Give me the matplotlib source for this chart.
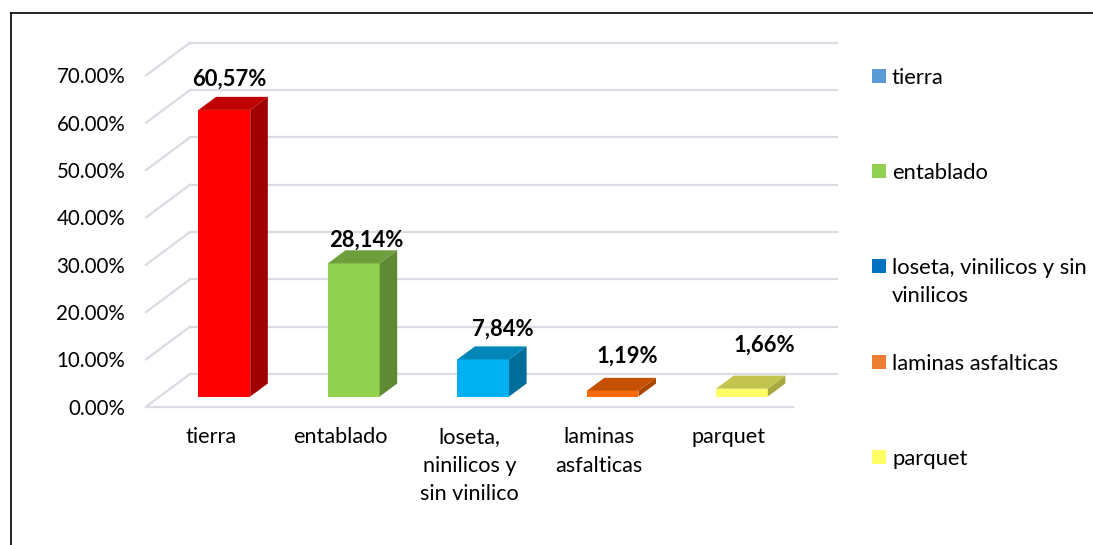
#!/usr/bin/env python
# -*- coding: utf-8 -*-

import matplotlib
matplotlib.use("Agg")
import matplotlib.pyplot as pl
from matplotlib.patches import Polygon, Rectangle
from matplotlib.lines import Line2D

pl.rcParams["font.family"] = ["Lato", "DejaVu Sans"]

# data
categories = ["tierra", "entablado", "loseta,\nninilicos y\nsin vinilico",
              "laminas\nasfalticas", "parquet"]
values = [60.57, 28.14, 7.84, 1.19, 1.66]
value_labels = ["60,57%", "28,14%", "7,84%", "1,19%", "1,66%"]
yticks = [0, 10, 20, 30, 40, 50, 60, 70]

legend_labels = ["tierra", "entablado", "loseta, vinilicos y sin\nvinilicos",
                 "laminas asfalticas", "parquet"]
legend_colors = ["#5B9BD5", "#92D050", "#0070C0", "#ED7D31", "#FFFF66"]

# front / top / side colours of each bar
front_colors = ["#FF0000", "#92D050", "#00B0F0", "#FF6A00", "#FFFF66"]
top_colors = ["#C00000", "#6F9E3D", "#0087B8", "#C55000", "#C3C350"]
side_colors = ["#A00000", "#5F8A33", "#006E9A", "#A84400", "#A8A840"]

# where Excel put the data labels, relative to the bar (x in bars, y in %)
label_nudge = [(0.14, 8.7), (0.20, 7.1), (0.26, 8.6), (0.22, 9.4),
               (0.28, 11.4)]

GRID = "#D9DCE3"
DX, DY = 0.34, 6.91          # full depth of the floor, in data units
F, B = 0.31, 0.71            # front / back depth fraction of the bars
HW = 0.2                     # half bar width

W, H = 1093, 545
fig = pl.figure(figsize=(W / 100, H / 100), dpi=100)
ax = fig.add_axes([146 / W, 1 - 406.7 / H, 711.7 / W, 378.6 / H])
ax.set_xlim(-0.5, 5.0)
ax.set_ylim(0, 80)
for s in ax.spines.values():
    s.set_visible(False)

# walls / gridlines
for v in yticks:
    ax.plot([-0.5 + DX, 4.5 + DX], [v + DY, v + DY], color=GRID, lw=1.6,
            clip_on=False, zorder=1)
    ax.plot([-0.5, -0.5 + DX], [v, v + DY], color=GRID, lw=1.6,
            clip_on=False, zorder=1)
ax.plot([-0.5, 4.5], [0, 0], color=GRID, lw=1.6, clip_on=False, zorder=1)

# 3d-ish bars
for i, v in enumerate(values):
    x0, x1 = i - HW + F * DX, i + HW + F * DX
    y0, y1 = F * DY, v + F * DY
    ddx, ddy = (B - F) * DX, (B - F) * DY
    front = Polygon([(x0, y0), (x1, y0), (x1, y1), (x0, y1)],
                    closed=True, fc=front_colors[i], ec="none", zorder=3)
    side = Polygon([(x1, y0), (x1 + ddx, y0 + ddy), (x1 + ddx, y1 + ddy),
                    (x1, y1)], closed=True, fc=side_colors[i], ec="none",
                   zorder=3)
    top = Polygon([(x0, y1), (x1, y1), (x1 + ddx, y1 + ddy),
                   (x0 + ddx, y1 + ddy)], closed=True, fc=top_colors[i],
                  ec="none", zorder=3)
    for p in (front, side, top):
        p.set_clip_on(False)
        ax.add_patch(p)
    nx, ny = label_nudge[i]
    ax.text(i + nx, v + ny, value_labels[i], ha="center", va="center",
            fontsize=15.8, fontweight="bold", color="black", zorder=4)

ax.set_yticks(yticks)
ax.set_yticklabels(["%.2f%%" % t for t in yticks])
ax.set_xticks(range(len(categories)))
ax.set_xticklabels(categories, linespacing=1.55)
ax.tick_params(axis="y", length=0, pad=15, labelsize=14.8)
ax.tick_params(axis="x", length=0, pad=14.5, labelsize=15.6)

# legend drawn by hand (Excel spreads entries evenly)
for k, (lab, col) in enumerate(zip(legend_labels, legend_colors)):
    yc = 76 + 95.2 * k
    fig.add_artist(Rectangle((872 / W, 1 - (yc + 7) / H), 14 / W, 14 / H,
                             transform=fig.transFigure, fc=col, ec="none"))
    for j, line in enumerate(lab.split("\n")):
        fig.text(892 / W, 1 - (yc + 28 * j) / H, line, ha="left",
                 va="center_baseline", fontsize=15.8, color="black")

# chart border
fig.add_artist(Line2D([10.5 / W, 10.5 / W], [0, 1 - 12.5 / H],
                      transform=fig.transFigure, color="black", lw=1.2))
fig.add_artist(Line2D([10.5 / W, 1], [1 - 12.5 / H, 1 - 12.5 / H],
                      transform=fig.transFigure, color="black", lw=1.2))

fig.savefig("out.png", dpi=100)
